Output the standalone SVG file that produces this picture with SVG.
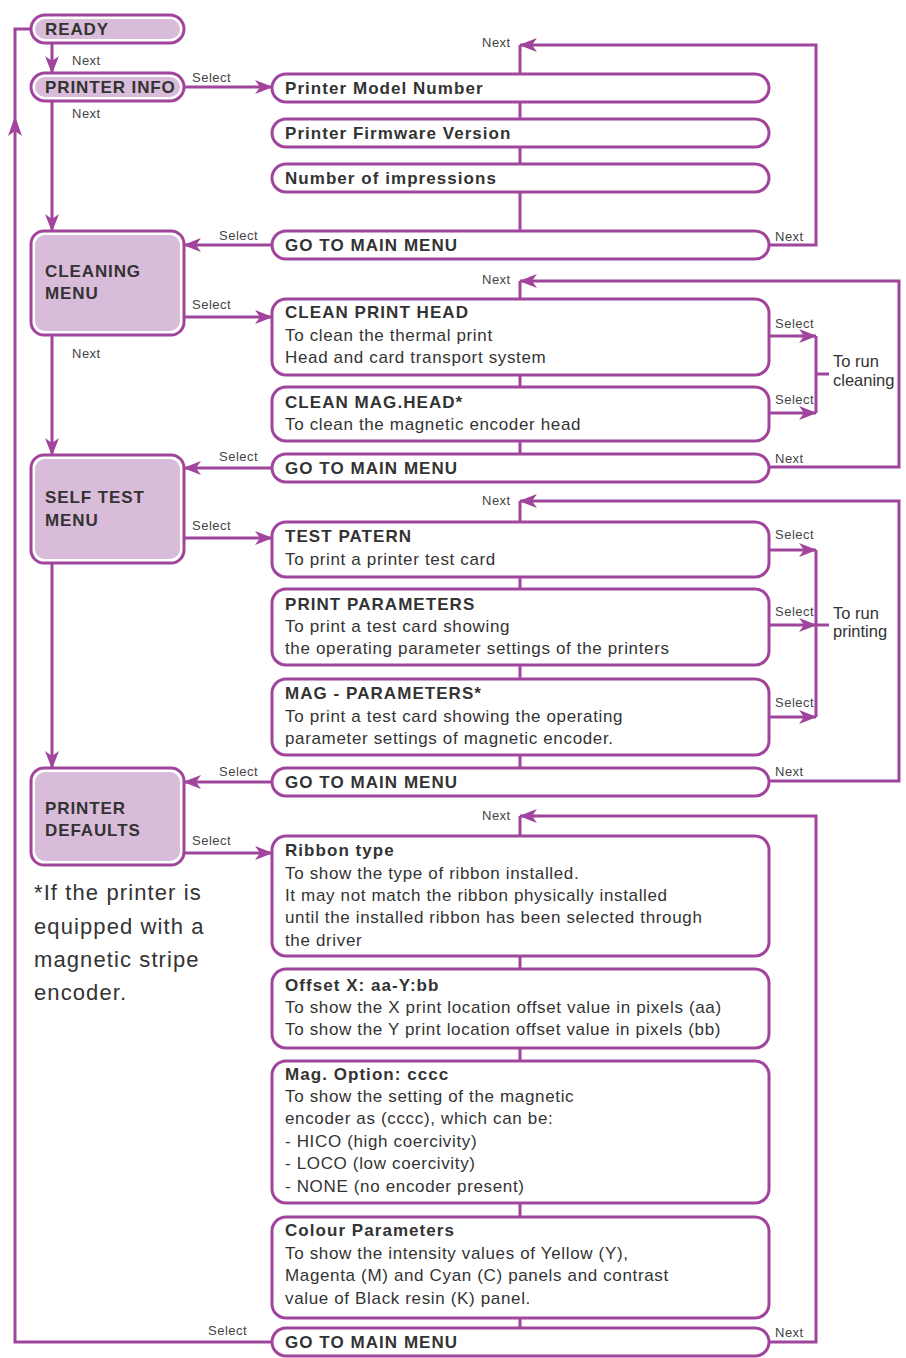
<svg xmlns="http://www.w3.org/2000/svg" width="906" height="1358" viewBox="0 0 906 1358">
<defs>
<marker id="ah" markerWidth="18" markerHeight="14" refX="17" refY="7" orient="auto" markerUnits="userSpaceOnUse"><path d="M0,0 L18,7 L0,14 L5,7 z" fill="#a0449c"/></marker>
<style>
.ln{fill:none;stroke:#a0449c;stroke-width:3}
.box{fill:#fff;stroke:#a0449c;stroke-width:3}
.pill{fill:#fff;stroke:#a0449c;stroke-width:3}
.inner{fill:#d9bcd9}
text{font-family:"Liberation Sans",Arial,sans-serif;fill:#333}
.b{font-weight:bold;font-size:17px;letter-spacing:1.05px}
.t{font-size:17px;letter-spacing:0.65px}
.lb{font-size:13px;fill:#444;letter-spacing:0.5px}
.m{font-weight:bold;font-size:17px;letter-spacing:0.9px}
.fn{font-size:22px;letter-spacing:1.1px}
.r{font-size:16.5px}
</style>
</defs>
<rect width="906" height="1358" fill="#fff"/>
<g id="connectors">
<path class="ln" d="M272,1342 H15 V29 H31"/>
<path d="M15,116 L22,136 L15,131 L8,136 z" fill="#a0449c"/>
<path class="ln" d="M52,43 V73" marker-end="url(#ah)"/>
<path class="ln" d="M52,101 V231" marker-end="url(#ah)"/>
<path class="ln" d="M52,335 V455" marker-end="url(#ah)"/>
<path class="ln" d="M52,563 V768" marker-end="url(#ah)"/>
<path class="ln" d="M184,87 H272" marker-end="url(#ah)"/>
<path class="ln" d="M520,45 V231"/>
<path class="ln" d="M769,245 H816 V45 H520" marker-end="url(#ah)"/>
<path class="ln" d="M272,245 H184" marker-end="url(#ah)"/>
<path class="ln" d="M184,317 H272" marker-end="url(#ah)"/>
<path class="ln" d="M520,281 V454"/>
<path class="ln" d="M769,467 H899 V281 H520" marker-end="url(#ah)"/>
<path class="ln" d="M272,468 H184" marker-end="url(#ah)"/>
<path class="ln" d="M769,336 H816" marker-end="url(#ah)"/>
<path class="ln" d="M769,413 H816" marker-end="url(#ah)"/>
<path class="ln" d="M816,336 V413 M816,374 H829"/>
<path class="ln" d="M184,538 H272" marker-end="url(#ah)"/>
<path class="ln" d="M520,501 V768"/>
<path class="ln" d="M769,781 H899 V501 H520" marker-end="url(#ah)"/>
<path class="ln" d="M272,782 H184" marker-end="url(#ah)"/>
<path class="ln" d="M769,550 H816" marker-end="url(#ah)"/>
<path class="ln" d="M769,625 H816" marker-end="url(#ah)"/>
<path class="ln" d="M769,717 H816" marker-end="url(#ah)"/>
<path class="ln" d="M816,550 V717 M816,625 H829"/>
<path class="ln" d="M184,853 H272" marker-end="url(#ah)"/>
<path class="ln" d="M520,816 V1328"/>
<path class="ln" d="M769,1342 H816 V816 H520" marker-end="url(#ah)"/>
</g>
<g id="labels">
<text class="lb" x="72" y="65">Next</text>
<text class="lb" x="72" y="118">Next</text>
<text class="lb" x="192" y="82">Select</text>
<text class="lb" x="482" y="47">Next</text>
<text class="lb" x="775" y="241">Next</text>
<text class="lb" x="219" y="240">Select</text>
<text class="lb" x="192" y="309">Select</text>
<text class="lb" x="72" y="358">Next</text>
<text class="lb" x="482" y="284">Next</text>
<text class="lb" x="775" y="328">Select</text>
<text class="lb" x="775" y="404">Select</text>
<text class="lb" x="775" y="463">Next</text>
<text class="r" x="833" y="367">To run</text>
<text class="r" x="833" y="386">cleaning</text>
<text class="lb" x="219" y="461">Select</text>
<text class="lb" x="192" y="530">Select</text>
<text class="lb" x="482" y="505">Next</text>
<text class="lb" x="775" y="539">Select</text>
<text class="lb" x="775" y="616">Select</text>
<text class="lb" x="775" y="707">Select</text>
<text class="lb" x="775" y="776">Next</text>
<text class="r" x="833" y="619">To run</text>
<text class="r" x="833" y="637">printing</text>
<text class="lb" x="219" y="776">Select</text>
<text class="lb" x="192" y="845">Select</text>
<text class="lb" x="482" y="820">Next</text>
<text class="lb" x="208" y="1335">Select</text>
<text class="lb" x="775" y="1337">Next</text>
</g>
<g id="n-ready"><rect class="pill" x="31" y="15" width="153" height="28" rx="14"/><rect class="inner" x="35" y="19" width="145" height="20" rx="10"/><text class="m" x="45" y="35">READY</text></g>
<g id="n-printerinfo"><rect class="pill" x="31" y="73" width="153" height="28" rx="14"/><rect class="inner" x="35" y="77" width="145" height="20" rx="10"/><text class="m" x="45" y="93">PRINTER INFO</text></g>
<g id="n-cleaning"><rect class="pill" x="31" y="231" width="153" height="104" rx="13"/><rect class="inner" x="35" y="235" width="145" height="96" rx="10"/><text class="m" x="45" y="277">CLEANING</text><text class="m" x="45" y="299">MENU</text></g>
<g id="n-selftest"><rect class="pill" x="31" y="455" width="153" height="108" rx="13"/><rect class="inner" x="35" y="459" width="145" height="100" rx="10"/><text class="m" x="45" y="503">SELF TEST</text><text class="m" x="45" y="526">MENU</text></g>
<g id="n-defaults"><rect class="pill" x="31" y="768" width="153" height="97" rx="13"/><rect class="inner" x="35" y="772" width="145" height="89" rx="10"/><text class="m" x="45" y="814">PRINTER</text><text class="m" x="45" y="836">DEFAULTS</text></g>

<g id="n-model"><rect class="box" x="272" y="74" width="497" height="28" rx="14"/><text class="b" x="285" y="94">Printer Model Number</text></g>
<g id="n-firmware"><rect class="box" x="272" y="119" width="497" height="28" rx="14"/><text class="b" x="285" y="139">Printer Firmware Version</text></g>
<g id="n-impressions"><rect class="box" x="272" y="164" width="497" height="28" rx="14"/><text class="b" x="285" y="184">Number of impressions</text></g>
<g id="n-main1"><rect class="box" x="272" y="231" width="497" height="28" rx="14"/><text class="b" x="285" y="251">GO TO MAIN MENU</text></g>

<g id="n-cleanhead"><rect class="box" x="272" y="299" width="497" height="76" rx="14"/><text class="b" x="285" y="318">CLEAN PRINT HEAD</text><text class="t" x="285" y="341">To clean the thermal print</text><text class="t" x="285" y="363">Head and card transport system</text></g>
<g id="n-cleanmag"><rect class="box" x="272" y="387" width="497" height="54" rx="14"/><text class="b" x="285" y="408">CLEAN MAG.HEAD*</text><text class="t" x="285" y="430">To clean the magnetic encoder head</text></g>
<g id="n-main2"><rect class="box" x="272" y="454" width="497" height="28" rx="14"/><text class="b" x="285" y="474">GO TO MAIN MENU</text></g>

<g id="n-testpatern"><rect class="box" x="272" y="522" width="497" height="55" rx="14"/><text class="b" x="285" y="542">TEST PATERN</text><text class="t" x="285" y="565">To print a printer test card</text></g>
<g id="n-printparams"><rect class="box" x="272" y="589" width="497" height="76" rx="14"/><text class="b" x="285" y="610">PRINT PARAMETERS</text><text class="t" x="285" y="632">To print a test card showing</text><text class="t" x="285" y="654">the operating parameter settings of the printers</text></g>
<g id="n-magparams"><rect class="box" x="272" y="679" width="497" height="76" rx="14"/><text class="b" x="285" y="699">MAG - PARAMETERS*</text><text class="t" x="285" y="722">To print a test card showing the operating</text><text class="t" x="285" y="744">parameter settings of magnetic encoder.</text></g>
<g id="n-main3"><rect class="box" x="272" y="768" width="497" height="28" rx="14"/><text class="b" x="285" y="788">GO TO MAIN MENU</text></g>

<g id="n-ribbon"><rect class="box" x="272" y="836" width="497" height="120" rx="14"/><text class="b" x="285" y="856">Ribbon type</text><text class="t" x="285" y="879">To show the type of ribbon installed.</text><text class="t" x="285" y="901">It may not match the ribbon physically installed</text><text class="t" x="285" y="923">until the installed ribbon has been selected through</text><text class="t" x="285" y="946">the driver</text></g>
<g id="n-offset"><rect class="box" x="272" y="969" width="497" height="79" rx="14"/><text class="b" x="285" y="991">Offset X: aa-Y:bb</text><text class="t" x="285" y="1013">To show the X print location offset value in pixels (aa)</text><text class="t" x="285" y="1035">To show the Y print location offset value in pixels (bb)</text></g>
<g id="n-magoption"><rect class="box" x="272" y="1061" width="497" height="142" rx="14"/><text class="b" x="285" y="1080">Mag. Option: cccc</text><text class="t" x="285" y="1102">To show the setting of the magnetic</text><text class="t" x="285" y="1124">encoder as (cccc), which can be:</text><text class="t" x="285" y="1147">- HICO (high coercivity)</text><text class="t" x="285" y="1169">- LOCO (low coercivity)</text><text class="t" x="285" y="1192">- NONE (no encoder present)</text></g>
<g id="n-colour"><rect class="box" x="272" y="1217" width="497" height="101" rx="14"/><text class="b" x="285" y="1236">Colour Parameters</text><text class="t" x="285" y="1259">To show the intensity values of Yellow (Y),</text><text class="t" x="285" y="1281">Magenta (M) and Cyan (C) panels and contrast</text><text class="t" x="285" y="1304">value of Black resin (K) panel.</text></g>
<g id="n-main4"><rect class="box" x="272" y="1328" width="497" height="28" rx="14"/><text class="b" x="285" y="1348">GO TO MAIN MENU</text></g>

<g id="footnote"><text class="fn" x="34" y="900">*If the printer is</text><text class="fn" x="34" y="934">equipped with a</text><text class="fn" x="34" y="967">magnetic stripe</text><text class="fn" x="34" y="1000">encoder.</text></g>
</svg>
